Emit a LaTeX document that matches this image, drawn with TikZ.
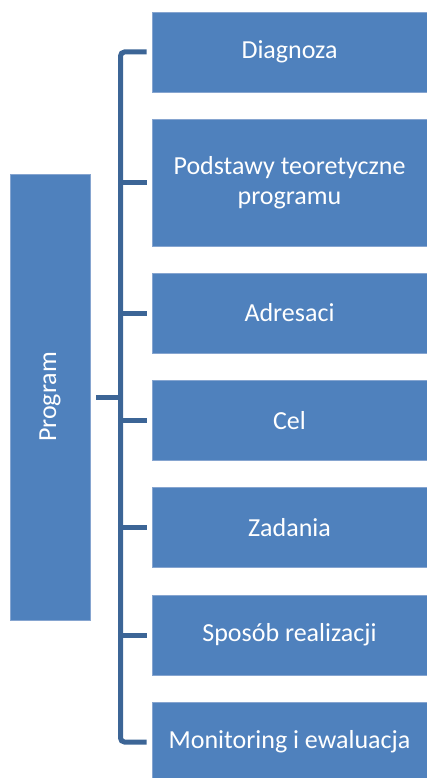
\documentclass[tikz,border=0pt]{standalone}
\usepackage{fontspec}
\setmainfont{Carlito}
\usepackage{graphicx}
\usepackage{xcolor}
\definecolor{boxblue}{HTML}{4F81BD}
\definecolor{boxedge}{HTML}{86A5D0}
\definecolor{linkblue}{HTML}{3C6596}

\begin{document}
\begin{tikzpicture}[x=1pt, y=-1pt,
    box/.style={fill=boxblue, draw=boxedge, line width=0.6pt, text=white,
        align=center, inner sep=0pt, font=\fontsize{26}{30}\selectfont},
    item/.style={box, minimum width=275pt, minimum height=80pt},
    link/.style={linkblue, line width=5pt}]
    \useasboundingbox (0,0) rectangle (427,778);
    % Main box
    \node[box, minimum width=80pt, minimum height=446pt] (prog) at (50,397) {\rotatebox{90}{Program}};
    % Parts of the program
    \node[item] (diag) at (289.5,52) {Diagnoza};
    \node[item, minimum height=127pt] (pods) at (289.5,182.5) {Podstawy teoretyczne\\programu};
    \node[item] (adr) at (289.5,313) {Adresaci};
    \node[item] (cel) at (289.5,420.5) {Cel};
    \node[item] (zad) at (289.5,527.5) {Zadania};
    \node[item] (spos) at (289.5,635) {Sposób realizacji};
    \node[item] (mon) at (289.5,742) {Monitoring i ewaluacja};
    % Bracket
    \coordinate (trunk) at (120.5,397);
    \draw[link, rounded corners=4pt] ([xshift=-5pt]diag.west) -| (trunk |- mon.west) -- ([xshift=-5pt]mon.west);
    \foreach \n in {pods,adr,cel,zad,spos} {
        \draw[link] (trunk |- \n.west) -- ([xshift=-5pt]\n.west);
    }
    \draw[link] ([xshift=6pt]prog.east) -- (trunk);
\end{tikzpicture}
\end{document}
